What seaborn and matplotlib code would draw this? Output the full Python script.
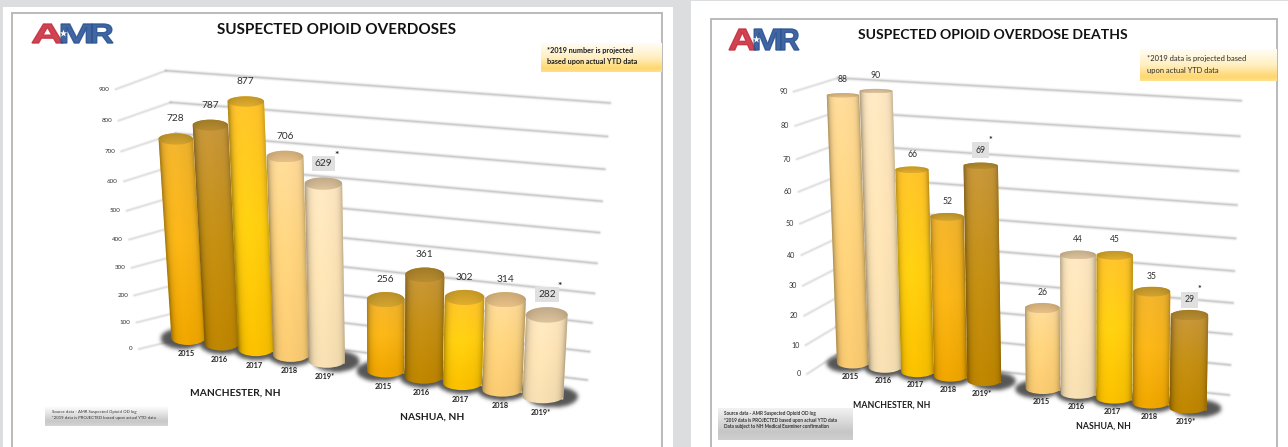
import numpy as np
import pandas as pd
import matplotlib
matplotlib.use("Agg")
import matplotlib.pyplot as plt
import matplotlib.transforms as mtransforms
from matplotlib.font_manager import FontProperties
from matplotlib.patches import PathPatch, Rectangle
from matplotlib.path import Path
from matplotlib.textpath import TextPath
import seaborn as sns

# ---- data -------------------------------------------------------------
years = ["2015", "2016", "2017", "2018", "2019*"]
cities = ["MANCHESTER, NH", "NASHUA, NH"]
overdoses_manchester = [728, 787, 877, 706, 629]
overdoses_nashua = [256, 361, 302, 314, 282]
deaths_manchester = [88, 90, 66, 52, 69]
deaths_nashua = [26, 44, 45, 35, 29]
overdose_ticks = [0, 100, 200, 300, 400, 500, 600, 700, 800, 900]
death_ticks = [0, 10, 20, 30, 40, 50, 60, 70, 80, 90]

# ---- cylinder colours: top, middle, bottom of the shaft, then the cap --
GOLD = ["#EFB22E", "#F7B417", "#ECA400", "#C79A2C"]
DARK = ["#C5953A", "#C28E14", "#BC8400", "#AD842C"]
YELLOW = ["#FFC22C", "#FFCE10", "#F6BE00", "#D2A32A"]
TAN = ["#FCD998", "#FDD27C", "#F6C870", "#D9B47E"]
CREAM = ["#FBE5C0", "#FCE2B4", "#F3DCB0", "#CFB792"]

W, H = 1288, 447
sns.set_theme(style="white")
plt.rcParams["font.family"] = ["Lato", "DejaVu Sans"]

fig = plt.figure(figsize=(W / 100, H / 100), dpi=100, facecolor="#DCDDDF")
ax = fig.add_axes([0, 0, 1, 1])


def hex_rgb(c):
    return np.array(matplotlib.colors.to_rgb(c))


class Perspective(mtransforms.Transform):
    """Projective map from (bar position, value) to canvas pixels."""
    input_dims = 2
    output_dims = 2
    is_separable = False
    has_inverse = False

    def __init__(self, x0, x1, vmax, bl, tl, br, tr):
        super().__init__()
        src = [(x0, 0), (x0, vmax), (x1, 0), (x1, vmax)]
        dst = [bl, tl, br, tr]
        rows, rhs = [], []
        for (a, b), (u, v) in zip(src, dst):
            rows.append([a, b, 1, 0, 0, 0, -u * a, -u * b])
            rows.append([0, 0, 0, a, b, 1, -v * a, -v * b])
            rhs += [u, v]
        self.m = np.append(np.linalg.solve(rows, rhs), 1).reshape(3, 3)

    def transform_non_affine(self, pts):
        pts = np.asarray(pts, float)
        q = np.c_[pts, np.ones(len(pts))] @ self.m.T
        return q[:, :2] / q[:, 2:]

    def at(self, x, v):
        return self.transform_non_affine([[x, v]])[0]


def gradient_box(x0, y0, x1, y1, stops, z=3):
    """Rectangle with a vertical colour ramp."""
    t = np.linspace(0, 1, 64)
    pos = [s[0] for s in stops]
    cols = np.array([hex_rgb(s[1]) for s in stops])
    img = np.stack([np.interp(t, pos, cols[:, i]) for i in range(3)], 1)[:, None, :]
    ax.imshow(img, extent=(x0, x1, y1, y0), aspect="auto", zorder=z,
              interpolation="bilinear")


def shaft_shade(u):
    return 1.0 - 0.30 * np.abs(u) ** 6 + 0.025 * np.exp(-((u + 0.2) / 0.45) ** 2)


def cylinder(T, B, wt, wb, bt, bb, colors, z):
    """Shaded upright cylinder from its cap centre T to its base centre B."""
    k = 0.5522847
    verts = [(T[0] - wt, T[1]), (B[0] - wb, B[1]),
             (B[0] - wb, B[1] + k * bb), (B[0] - k * wb, B[1] + bb), (B[0], B[1] + bb),
             (B[0] + k * wb, B[1] + bb), (B[0] + wb, B[1] + k * bb), (B[0] + wb, B[1]),
             (T[0] + wt, T[1]),
             (T[0] + wt, T[1] - k * bt), (T[0] + k * wt, T[1] - bt), (T[0], T[1] - bt),
             (T[0] - k * wt, T[1] - bt), (T[0] - wt, T[1] - k * bt), (T[0] - wt, T[1]),
             (T[0] - wt, T[1])]
    codes = [Path.MOVETO, Path.LINETO] + [Path.CURVE4] * 6 + [Path.LINETO] + [Path.CURVE4] * 6 + [Path.CLOSEPOLY]
    outline = Path(verts, codes)
    xmin = min(T[0] - wt, B[0] - wb) - 1
    xmax = max(T[0] + wt, B[0] + wb) + 1
    ymin, ymax = T[1] - bt - 1, B[1] + bb + 1
    nx, ny = int((xmax - xmin) * 2), int((ymax - ymin) * 2)
    X, Y = np.meshgrid(np.linspace(xmin, xmax, nx), np.linspace(ymin, ymax, ny))
    t = np.clip((Y - T[1]) / (B[1] - T[1]), 0, 1)
    cx, hw = T[0] + (B[0] - T[0]) * t, wt + (wb - wt) * t
    u = np.clip((X - cx) / hw, -1, 1)
    stops = np.array([hex_rgb(c) for c in colors[:3]])
    img = np.stack([np.interp(t, [0, 0.5, 1], stops[:, i]) for i in range(3)], -1)
    img = np.clip(img * shaft_shade(u)[..., None], 0, 1)
    im = ax.imshow(img, extent=(xmin, xmax, ymax, ymin), aspect="auto",
                   interpolation="bilinear", zorder=z)
    im.set_clip_path(outline, ax.transData)
    # elliptical cap
    cap_c = hex_rgb(colors[3])
    th = np.linspace(0, 2 * np.pi, 60)
    ring = np.c_[T[0] + wt * np.cos(th), T[1] + bt * np.sin(th)]
    cap = Path(ring)
    X, Y = np.meshgrid(np.linspace(T[0] - wt, T[0] + wt, 80), np.linspace(T[1] - bt, T[1] + bt, 24))
    u = (X - T[0]) / wt
    v = (Y - T[1]) / bt
    shade = (1 - 0.12 * np.abs(u) ** 3 + 0.07 * v)[..., None]
    cim = ax.imshow(np.clip(cap_c * shade, 0, 1), extent=(T[0] - wt, T[0] + wt, T[1] + bt, T[1] - bt),
                    aspect="auto", interpolation="bilinear", zorder=z + 0.1)
    cim.set_clip_path(cap, ax.transData)


def blur(a, sigma):
    r = int(3 * sigma)
    g = np.exp(-0.5 * (np.arange(-r, r + 1) / sigma) ** 2)
    g /= g.sum()
    a = np.apply_along_axis(lambda s: np.convolve(s, g, mode="same"), 0, a)
    return np.apply_along_axis(lambda s: np.convolve(s, g, mode="same"), 1, a)


def logo(x0, y0, x1, y1):
    """AMR word mark fitted to a box."""
    fp = FontProperties(family="Liberation Sans", weight="bold")
    spans = [("A", 0.00, 0.38, "#C93040"), ("M", 0.36, 0.74, "#2C5596"), ("R", 0.74, 1.00, "#2C5596")]
    for ch, a, b, col in spans:
        tp = TextPath((0, 0), ch, size=10, prop=fp)
        e = tp.get_extents()
        v = tp.vertices.copy()
        sx = (b - a) * (x1 - x0) / e.width
        sy = (y1 - y0) / e.height
        v[:, 0] = x0 + a * (x1 - x0) + (v[:, 0] - e.x0) * sx
        v[:, 1] = y1 - (v[:, 1] - e.y0) * sy
        ax.add_patch(PathPatch(Path(v, tp.codes), fc=col, ec=col, lw=1.0, alpha=0.9, zorder=3))
    star_x = x0 + 0.38 * (x1 - x0)
    ax.scatter([star_x], [(y0 + y1) / 2 - 1], marker="*", s=30, c="white", linewidths=0, zorder=3.5)


def draw_chart(chart):
    colors = chart["colors"]
    values = list(chart["manchester"]) + list(chart["nashua"])
    df = pd.DataFrame({
        "city": np.repeat(cities, len(years)),
        "year": years * 2,
        "value": values,
    })
    # bar slots run along the floor with a wider gap between the two cities
    df["slot"] = df.groupby("city").cumcount() + df["city"].map(
        {cities[0]: 0.0, cities[1]: len(years) + chart["gap"]})
    persp = Perspective(0, df["slot"].max(), chart["ticks"][-1], *chart["corners"])
    width = chart["bar_width"]

    before = len(ax.patches)
    sns.barplot(data=df, x="slot", y="value", hue="year", hue_order=years,
                palette=dict(zip(years, [c[1] for c in colors])), native_scale=True,
                dodge=False, width=width, saturation=1, errorbar=None, legend=False, ax=ax)
    bars = sorted(ax.patches[before:], key=lambda p: p.get_x())

    def half_widths(x, val):
        wt = (persp.at(x + width / 2, val)[0] - persp.at(x - width / 2, val)[0]) / 2
        wb = (persp.at(x + width / 2, 0)[0] - persp.at(x - width / 2, 0)[0]) / 2
        # the shaft tapers less than the floor spacing does
        return wt, 0.5 * (wb + wt)

    # floor shadow, kept on its own soft layer
    mask = np.zeros((H, W))
    YY, XX = np.mgrid[0:H, 0:W]
    for p in bars:
        x = p.get_x() + p.get_width() / 2
        B = persp.at(x, 0)
        a = half_widths(x, p.get_height())[1]
        last = abs(x - 4) < 0.01 or abs(x - df["slot"].max()) < 0.01
        first = abs(x) < 0.01 or abs(x - (len(years) + chart["gap"])) < 0.01
        shift = 9 if last else (-6 if first else 0)
        mask[((XX - B[0] - shift) / (a + 5)) ** 2 + ((YY - B[1]) / (chart["base_b"] + 3.5)) ** 2 < 1] = 1
    mask = blur(mask, 2.0)
    layer = np.zeros((H, W, 4))
    layer[..., :3] = 0.28
    layer[..., 3] = mask * 0.92
    ax.imshow(layer, extent=(0, W, H, 0), aspect="auto", zorder=4, interpolation="bilinear")

    # wall grid lines and value axis labels
    s_k = -0.09
    ticks = chart["ticks"]
    for v in ticks:
        t = v / ticks[-1]
        s = t * (1 + s_k) / (1 + s_k * t)
        pts = [np.array(a0) + (np.array(a1) - np.array(a0)) * s for a0, a1 in chart["wall"]]
        xs, ys = zip(*pts)
        for lw, al in [(3.6, 0.07), (2.2, 0.16), (1.0, 0.30)]:
            ax.plot(xs[1:], ys[1:], color="#8E8E8E", lw=lw, alpha=al, solid_capstyle="round", zorder=2)
        for lw, al in [(2.6, 0.08), (1.3, 0.20)]:
            ax.plot(xs[:2], ys[:2], color="#8E8E8E", lw=lw, alpha=al, solid_capstyle="round", zorder=2)
        ax.text(xs[0] - 6, ys[0], f"{v}", ha="right", va="center", fontsize=chart["tick_fs"],
                color="#333333", zorder=8)

    # reshape every bar into perspective and dress it as a cylinder
    for i, p in enumerate(bars):
        p.set_transform(persp + ax.transData)
        p.set_edgecolor("none")
        p.set_zorder(5 + i * 0.2)
        x = p.get_x() + p.get_width() / 2
        val = p.get_height()
        yr = int(round(x if x < len(years) else x - len(years) - chart["gap"]))
        T, B = persp.at(x, val), persp.at(x, 0)
        wt, wb = half_widths(x, val)
        bt = chart["cap_b"] + chart["cap_slope"] * T[1]
        cylinder(T, B, wt, wb, bt, chart["base_b"], colors[yr], 5 + i * 0.2 + 0.05)

        # value label, boxed with a star for the projected year
        label_y = T[1] - chart["label_off"]
        box = None
        if yr == len(years) - 1:
            box = dict(facecolor="#E0E0E0", edgecolor="none", pad=chart["box_pad"])
        ax.text(T[0], label_y, f"{val:g}", ha="center", va="center", fontsize=chart["value_fs"],
                color="#303030", bbox=box, zorder=9)
        if box is not None:
            ax.text(T[0] + chart["star_dx"], label_y - chart["star_dy"], "*", ha="center", va="center",
                    fontsize=chart["value_fs"], fontweight="bold", color="#222222", zorder=9)
        # year label under the bar
        ax.text(B[0] - 2, B[1] + chart["base_b"] + chart["year_off"], years[yr], ha="center", va="center",
                fontsize=chart["year_fs"], fontweight="bold", color="#222222", zorder=9)

    for name, (cx, cy) in zip(cities, chart["city_xy"]):
        ax.text(cx, cy, name, ha="center", va="center", fontsize=chart["city_fs"],
                fontweight="bold", color="#1E1E1E", zorder=9)


# ---- page furniture -----------------------------------------------------
for x0, y0, x1 in [(3, 7, 673), (691, 1, 1288)]:
    ax.add_patch(Rectangle((x0, y0), x1 - x0, H - y0 + 5, fc="white", ec="none", zorder=0))
for x0, y0, x1 in [(12.5, 12.5, 662), (711.5, 18.5, 1277)]:
    ax.add_patch(Rectangle((x0, y0), x1 - x0, H - y0 + 8, fc="white", ec="#B4B4B4", lw=1.3, zorder=1))

overdoses = dict(
    manchester=overdoses_manchester, nashua=overdoses_nashua, ticks=overdose_ticks,
    colors=[GOLD, DARK, YELLOW, TAN, CREAM], gap=0.6, bar_width=0.98,
    corners=[(188.1, 338), (172.6, 88.3), (542.9, 396.3), (556.4, 121)],
    wall=[((139, 349), (115.7, 89.3)), ((206, 333), (166, 70.7)), ((587, 380), (610, 103))],
    cap_b=4, cap_slope=0.012, base_b=7, label_off=20, box_pad=2.2, star_dx=13, star_dy=8,
    value_fs=7.3, tick_fs=4.5, year_fs=5.3, city_fs=7.4, year_off=9,
    city_xy=[(235, 393), (432, 417)],
)
deaths = dict(
    manchester=deaths_manchester, nashua=deaths_nashua, ticks=death_ticks,
    colors=[TAN, CREAM, YELLOW, GOLD, DARK], gap=0.7, bar_width=0.98,
    corners=[(852.8, 363), (842.7, 89), (1188.1, 408), (1192.5, 111)],
    wall=[((807, 374), (793.7, 91.7)), ((836.3, 355), (838, 78)), ((1229, 395), (1241, 100.7))],
    cap_b=1, cap_slope=0.0135, base_b=5.5, label_off=15.5, box_pad=2.6, star_dx=9.5, star_dy=10,
    value_fs=6.2, tick_fs=5.1, year_fs=5.3, city_fs=6.3, year_off=7.6,
    city_xy=[(891.6, 405), (1103.6, 426)],
)
draw_chart(overdoses)
draw_chart(deaths)

# titles
ax.text(337, 29.5, "SUSPECTED OPIOID OVERDOSES", ha="center", va="center", fontsize=11,
        fontweight="bold", color="#111111", zorder=9)
ax.text(993, 35, "SUSPECTED OPIOID OVERDOSE DEATHS", ha="center", va="center", fontsize=10.1,
        fontweight="bold", color="#111111", zorder=9)
logo(32, 24, 113, 43)
logo(729, 29, 799, 50)

# projection notes
gradient_box(541, 43, 662, 72, [(0, "#FFFDF6"), (0.5, "#FFEFC0"), (0.88, "#FFD76E"), (1, "#FFE08E")])
ax.text(547, 51, "*2019 number is projected", fontsize=5.2, fontweight="bold", va="center", color="#1C1C1C", zorder=9)
ax.text(547, 61.5, "based upon actual YTD data", fontsize=5.2, fontweight="bold", va="center", color="#1C1C1C", zorder=9)
gradient_box(1140, 49, 1277, 81, [(0, "#FFFDF6"), (0.5, "#FFEFC0"), (0.88, "#FFD76E"), (1, "#FFE08E")])
ax.text(1147, 58, "*2019 data is projected based", fontsize=5.4, va="center", color="#2A2A2A", zorder=9)
ax.text(1147, 70, "upon actual YTD data", fontsize=5.4, va="center", color="#2A2A2A", zorder=9)

# source boxes
gradient_box(45, 406, 168, 426, [(0, "#FFFFFF"), (0.75, "#C8C8C8"), (1, "#D4D4D4")])
ax.text(52, 412, "Source data - AMR Suspected Opioid OD log", fontsize=3.1, va="center", color="#333333", zorder=9)
ax.text(52, 417.5, "*2019 data is PROJECTED based upon actual YTD data", fontsize=3.1, va="center", color="#333333", zorder=9)
gradient_box(718, 408, 853, 440, [(0, "#F2F2F2"), (0.75, "#C6C6C6"), (1, "#CFCFCF")])
ax.text(724, 414, "Source data - AMR Suspected Opioid OD log", fontsize=3.3, fontweight="bold", va="center", color="#333333", zorder=9)
ax.text(724, 420.3, "*2019 data is PROJECTED based upon actual YTD data", fontsize=3.3, fontweight="bold", va="center", color="#333333", zorder=9)
ax.text(724, 426.7, "Data subject to NH Medical Examiner confirmation", fontsize=3.3, fontweight="bold", va="center", color="#333333", zorder=9)

ax.set_xlim(0, W)
ax.set_ylim(H, 0)
ax.set_xlabel("")
ax.set_ylabel("")
ax.set_xticks([])
ax.set_yticks([])
for s in ax.spines.values():
    s.set_visible(False)
ax.patch.set_alpha(0)
fig.savefig("out.png", dpi=100, facecolor=fig.get_facecolor())
